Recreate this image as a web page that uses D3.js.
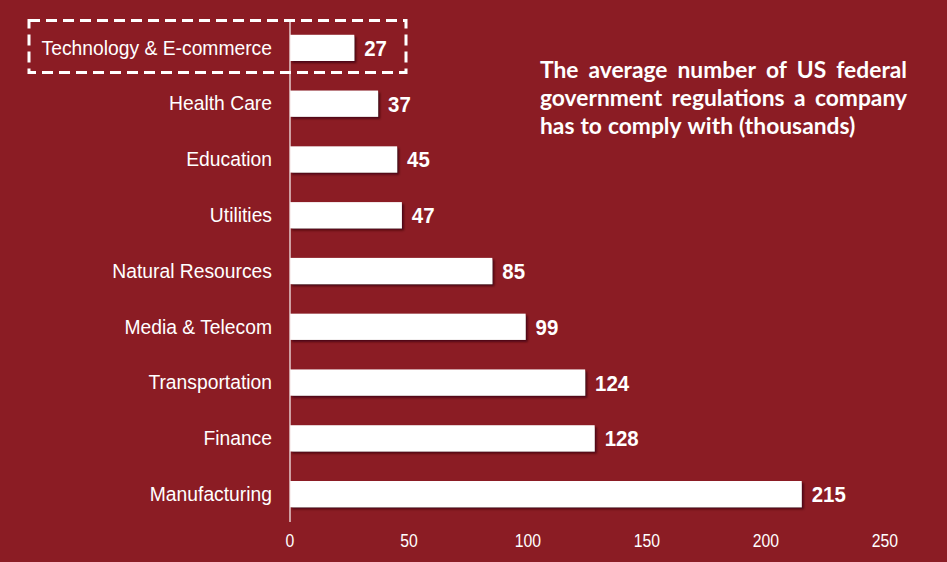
<!DOCTYPE html>
<html><head><meta charset="utf-8">
<script src="https://cdn.jsdelivr.net/npm/d3@7"></script>
<style>html,body{margin:0;padding:0;background:#8B1C24;}svg{display:block;}</style>
</head><body>
<svg id="c" width="947" height="562"></svg>
<script>
const categories = ["Technology & E-commerce","Health Care","Education","Utilities","Natural Resources","Media & Telecom","Transportation","Finance","Manufacturing"];
const values = [27,37,45,47,85,99,124,128,215];
const ticks = [0,50,100,150,200,250];
const titleLines = ["The average number of US federal","government regulations a company","has to comply with (thousands)"];

const svg = d3.select("#c");
const bg = "#8B1C24";
svg.append("rect").attr("width",947).attr("height",562).attr("fill",bg);

const x = d3.scaleLinear().domain([0,250]).range([290,885]);
const y = d3.scaleBand().domain(categories).range([20,522]).paddingInner(0.53).paddingOuter(0.265);

const defs = svg.append("defs");
const f = defs.append("filter").attr("id","sh").attr("x","-5%").attr("y","-20%").attr("width","115%").attr("height","160%");
f.append("feDropShadow").attr("dx",2).attr("dy",2).attr("stdDeviation",1.2).attr("flood-color","#3a0508").attr("flood-opacity",0.8);

svg.selectAll("rect.bar").data(values).enter().append("rect").attr("class","bar")
  .attr("x",x(0)).attr("y",(d,i)=>y(categories[i]))
  .attr("width",d=>x(d)-x(0)).attr("height",y.bandwidth())
  .attr("fill","#fff").attr("filter","url(#sh)");

// axis line
svg.append("line").attr("x1",x(0)).attr("x2",x(0)).attr("y1",20).attr("y2",522).attr("stroke","#f4e6e6").attr("stroke-width",1.3);

// x axis ticks (slightly condensed)
const gt = svg.append("g");
gt.selectAll("text").data(ticks).enter().append("text")
  .attr("transform",d=>`translate(${x(d)},547) scale(0.9,1)`)
  .attr("text-anchor","middle").attr("fill","#fff")
  .attr("font-family","'Liberation Sans',Arial,sans-serif").attr("font-size",17.5)
  .text(d=>d);

// category labels
svg.selectAll("text.cat").data(categories).enter().append("text").attr("class","cat")
  .attr("x",272).attr("y",d=>y(d)+y.bandwidth()/2).attr("dy","0.35em")
  .attr("text-anchor","end").attr("fill","#fff")
  .attr("font-family","'Liberation Sans',Arial,sans-serif").attr("font-size",19.3)
  .text(d=>d);

// value labels
svg.selectAll("text.val").data(values).enter().append("text").attr("class","val")
  .attr("transform",(d,i)=>`translate(${x(d)+10},${y(categories[i])+y.bandwidth()/2+8}) scale(0.95,1)`)
  .attr("fill","#fff").attr("font-weight","bold")
  .attr("font-family","'Liberation Sans',Arial,sans-serif").attr("font-size",21.5)
  .text(d=>d);

// dashed highlight box
svg.append("rect").attr("x",29).attr("y",20.5).attr("width",377).attr("height",52)
  .attr("fill","none").attr("stroke","#fff").attr("stroke-width",3).attr("stroke-dasharray","11,6");

// justified title
const tx0 = 540, tx1 = 907, lineYs = [78,106,134];
const tg = svg.append("g").attr("fill","#fff").attr("font-family","Lato,'Open Sans',sans-serif").attr("font-weight","bold").attr("font-size",22.8);
titleLines.forEach((line,li)=>{
  const words = line.split(" ");
  const nodes = words.map(w=>tg.append("text").attr("y",lineYs[li]).text(w));
  const widths = nodes.map(n=>n.node().getComputedTextLength());
  const total = d3.sum(widths);
  let gap;
  if (li < titleLines.length-1) gap = (tx1-tx0-total)/(words.length-1);
  else gap = 6;
  let cx = tx0;
  nodes.forEach((n,i)=>{ n.attr("x",cx); cx += widths[i]+gap; });
});
</script>
</body></html>
